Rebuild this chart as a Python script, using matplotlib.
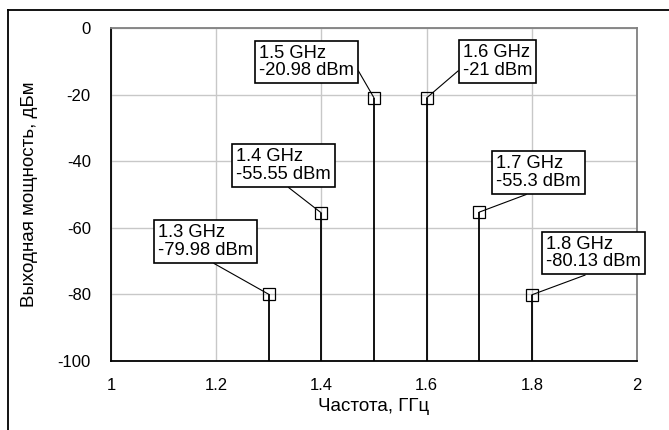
import numpy as np
import matplotlib
matplotlib.use("Agg")
import matplotlib.pyplot as plt
from matplotlib.lines import Line2D

plt.rcParams['font.family'] = ['Liberation Sans', 'DejaVu Sans']
plt.rcParams['axes.unicode_minus'] = False

# data
freq_ghz = [1.3, 1.4, 1.5, 1.6, 1.7, 1.8]
power_dbm = [-79.98, -55.55, -20.98, -21.0, -55.3, -80.13]
labels = ["1.3 GHz\n-79.98 dBm", "1.4 GHz\n-55.55 dBm", "1.5 GHz\n-20.98 dBm",
          "1.6 GHz\n-21 dBm", "1.7 GHz\n-55.3 dBm", "1.8 GHz\n-80.13 dBm"]
xticks = [1, 1.2, 1.4, 1.6, 1.8, 2]
yticks = [0, -20, -40, -60, -80, -100]

# layout of the callout boxes (box centre, leader attach point on box)
box_xy = [(1.18, -64.1), (1.328, -41.3), (1.371, -10.2),
          (1.735, -10.1), (1.813, -43.4), (1.918, -67.6)]
rel_pos = [(0.5, 0), (0.49, 0), (1, 0.48), (0, 0.35), (0.5, 0), (0.54, 0)]

fs_tick = 12
fs_note = 13.2
fs_label = 13.5
fig = plt.figure(figsize=(6.69, 4.30), dpi=100)
ax = fig.add_axes([111 / 669, 1 - 361 / 430, 526 / 669, 333 / 430])

ax.set_xlim(1, 2)
ax.set_ylim(-100, 0)
ax.set_xticks(xticks)
ax.set_xticklabels([f"{v:g}" for v in xticks])
ax.set_yticks(yticks)
ax.grid(True, color="#c8c8c8", lw=1)
ax.set_axisbelow(True)
ax.tick_params(length=0, labelsize=fs_tick)
ax.tick_params(axis="y", pad=14.5)
ax.tick_params(axis="x", pad=12)

for s in ["left", "bottom"]:
    ax.spines[s].set_color("black")
    ax.spines[s].set_linewidth(1.3)
for s in ["top", "right"]:
    ax.spines[s].set_color("#808080")
    ax.spines[s].set_linewidth(1.3)

ax.vlines(freq_ghz, -100, power_dbm, color="black", lw=1.3, zorder=3)
ax.plot(freq_ghz, power_dbm, linestyle="none", marker="s", ms=8.3,
        mfc="none", mec="black", mew=0.9, zorder=4)

for x, y, lab, bxy, rp in zip(freq_ghz, power_dbm, labels, box_xy, rel_pos):
    ax.annotate(lab, xy=(x, y), xytext=bxy, textcoords="data",
                ha="center", va="center", multialignment="left", fontsize=fs_note,
                linespacing=1.05,
                bbox=dict(boxstyle="square,pad=0.22", fc="white", ec="black", lw=1.2),
                arrowprops=dict(arrowstyle="-", color="black", lw=0.8,
                                relpos=rp, shrinkA=0, shrinkB=0),
                zorder=5, annotation_clip=False)

ax.set_xlabel("Частота, ГГц", fontsize=fs_label, labelpad=4)
ax.set_ylabel("Выходная мощность, дБм", fontsize=fs_label, labelpad=14)

# outer frame (only the left and top edges are visible)
fig.add_artist(Line2D([7.5 / 669, 7.5 / 669], [0, 1 - 10 / 430], color="black", lw=1.3))
fig.add_artist(Line2D([7.5 / 669, 1], [1 - 10 / 430, 1 - 10 / 430], color="black", lw=1.3))

fig.savefig("out.png", dpi=100)
